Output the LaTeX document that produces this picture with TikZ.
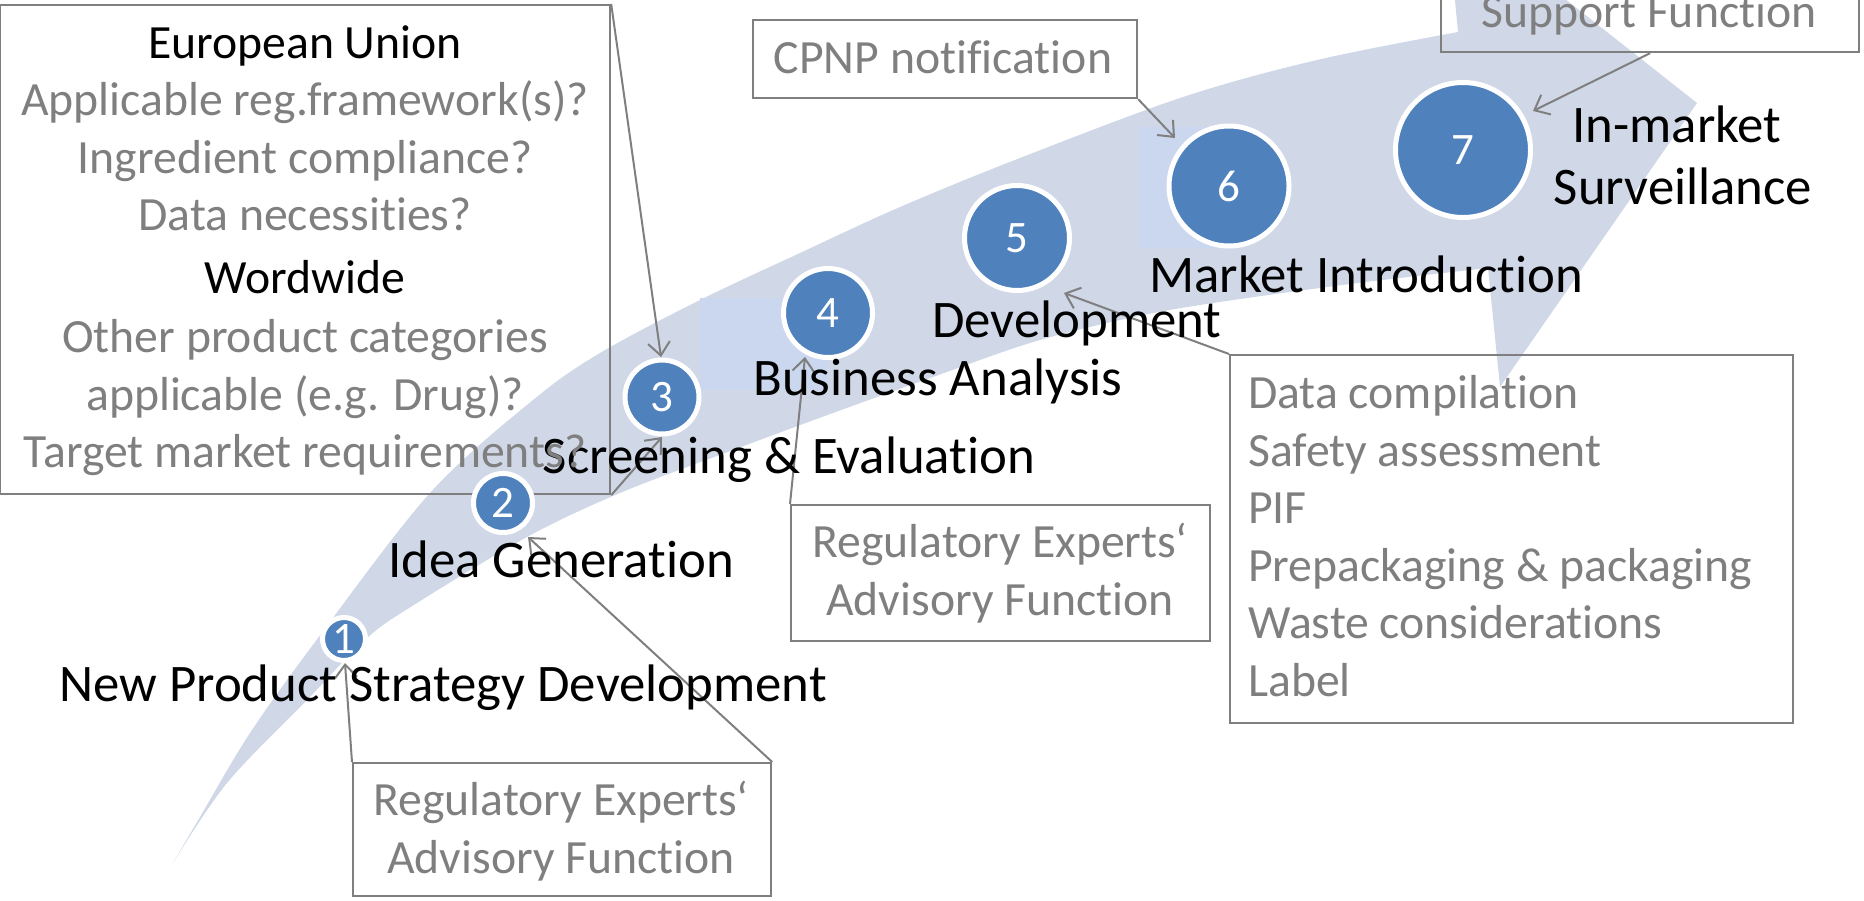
\documentclass[tikz,border=0pt]{standalone}
\usepackage{fontspec}
\setmainfont{Carlito}[Ligatures={NoCommon,NoContextual},Contextuals=NoAlternate]
\usetikzlibrary{arrows.meta}
\definecolor{bandc}{HTML}{D0D8E8}
\definecolor{rectc}{HTML}{CBD7EE}
\definecolor{numc}{HTML}{4F81BD}
\definecolor{grayc}{HTML}{7F7F7F}
\newcommand\lblfont{\fontsize{52.8}{62}\selectfont}
\newcommand\boxfont{\fontsize{47.7}{57.7}\selectfont}
\newcommand\numfont{\fontsize{45}{54}\selectfont}
\begin{document}
\begin{tikzpicture}[x=1pt,y=-1pt,
  num/.style={circle, fill=numc, draw=white, line width=5pt, text=white, font=\numfont, inner sep=0pt},
  lbl/.style={font=\lblfont, text=black, anchor=base, inner sep=0pt},
  gtxt/.style={font=\boxfont, text=grayc, anchor=base, inner sep=0pt},
  ltxt/.style={font=\boxfont, text=grayc, anchor=base west, inner sep=0pt},
  btxt/.style={font=\boxfont, text=black, anchor=base, inner sep=0pt},
  gbox/.style={draw=grayc, line width=2.2pt, inner sep=0pt, anchor=north west},
  ptr/.style={draw=grayc, line width=2pt, -{Straight Barb[length=13pt,width=22pt]}},
]
\useasboundingbox (0,0) rectangle (1864,900);
\clip (0,0) rectangle (1864,900);
% big curved arrow
\fill[bandc] plot[smooth, tension=0.55] coordinates {(173,863) (200,817) (250,733) (318,638) (430,493) (533,400) (600,353) (700,300) (800,253) (900,207) (1020,158) (1183,97) (1317,60) (1458,32)}
  -- (1446,-95) -- (1697,103) -- (1500,387) -- (1488,268)
  -- plot[smooth, tension=0.55] coordinates {(1488,268) (1350,284) (1200,305) (1120,320) (1030,343) (933,377) (833,413) (733,450) (620,493) (527,537) (417,603) (367,638) (307,700) (227,783) (173,863)} -- cycle;
\fill[rectc] (700,298) rectangle (828,390);
\fill[rectc] (1138,127) rectangle (1229,248);
% boxes
\node[gbox, minimum width=610, minimum height=489] (eu) at (-1,4) {};
\node[gbox, minimum width=418, minimum height=133] (advA) at (352,762) {};
\node[gbox, minimum width=419, minimum height=136] (advB) at (790,504) {};
\node[gbox, minimum width=384, minimum height=78] (cpnp) at (752,19) {};
\node[gbox, minimum width=418, minimum height=111] (supp) at (1440,-60) {};
\node[gbox, minimum width=563, minimum height=368] (data) at (1229,354) {};
% circles
\node[num, minimum size=43] (c1) at (344,639) {1};
\node[num, minimum size=59] (c2) at (503,503) {2};
\node[num, minimum size=74] (c3) at (662,397) {3};
\node[num, minimum size=89] (c4) at (828,313) {4};
\node[num, minimum size=105] (c5) at (1017,238) {5};
\node[num, minimum size=120] (c6) at (1229,186) {6};
\node[num, minimum size=135] (c7) at (1463,150) {7};
% pointer tips
\coordinate (t1) at (345,663);
\coordinate (t2) at (528,537);
\coordinate (t3a) at (661,357);
\coordinate (t3b) at (662,437);
\coordinate (t4) at (805,357);
\coordinate (t5) at (1064,293);
\coordinate (t6) at (1175,138);
\coordinate (t7) at (1533,111);
\draw[ptr] (eu.north east) -- (t3a);
\draw[ptr] (eu.south east) -- (t3b);
\draw[ptr] (advA.north west) -- (t1);
\draw[ptr] (advA.north east) -- (t2);
\draw[ptr] (advB.north west) -- (t4);
\draw[ptr] (cpnp.south east) -- (t6);
\draw[ptr] (supp.south) -- (t7);
\draw[ptr] (data.north west) -- (t5);
% stage labels
\node[lbl] (l1) at (443,701) {New Product Strategy Development};
\node[lbl] (l2) at (561,577) {Idea Generation};
\node[lbl] (l3) at (789,473) {Screening \& Evaluation};
\node[lbl] (l4) at (938,395) {Business Analysis};
\node[lbl] (l5) at (1077,337) {Development};
\node[lbl] (l6) at (1366,292) {Market Introduction};
\node[lbl] (l7a) at (1677,142) {In-market};
\node[lbl] (l7b) at (1683,204) {Surveillance};
% EU box text
\node[btxt] (e1) at (305,58) {European Union};
\node[gtxt] (e2) at (305,115) {Applicable reg.framework(s)?};
\node[gtxt] (e3) at (305,173) {Ingredient compliance?};
\node[gtxt] (e4) at (305,230) {Data necessities?};
\node[btxt] (e5) at (305,293) {Wordwide};
\node[gtxt] (e6) at (305,352) {Other product categories};
\node[gtxt] (e7) at (305,410) {applicable (e.g. Drug)?};
\node[gtxt] (e8) at (305,467) {Target market requirements?};
% other box texts
\node[gtxt] (a1) at (561,815) {Regulatory Experts‘};
\node[gtxt] (a2) at (561,873) {Advisory Function};
\node[gtxt] (b1) at (1000,557) {Regulatory Experts‘};
\node[gtxt] (b2) at (1000,615) {Advisory Function};
\node[gtxt] (cp) at (943,73) {CPNP notification};
\node[gtxt] (sp) at (1649,27) {Support Function};
\node[ltxt] (d1) at (1248,408) {Data compilation};
\node[ltxt] (d2) at (1248,466) {Safety assessment};
\node[ltxt] (d3) at (1248,523) {PIF};
\node[ltxt] (d4) at (1248,581) {Prepackaging \& packaging};
\node[ltxt] (d5) at (1248,638) {Waste considerations};
\node[ltxt] (d6) at (1248,696) {Label};
\end{tikzpicture}
\end{document}
